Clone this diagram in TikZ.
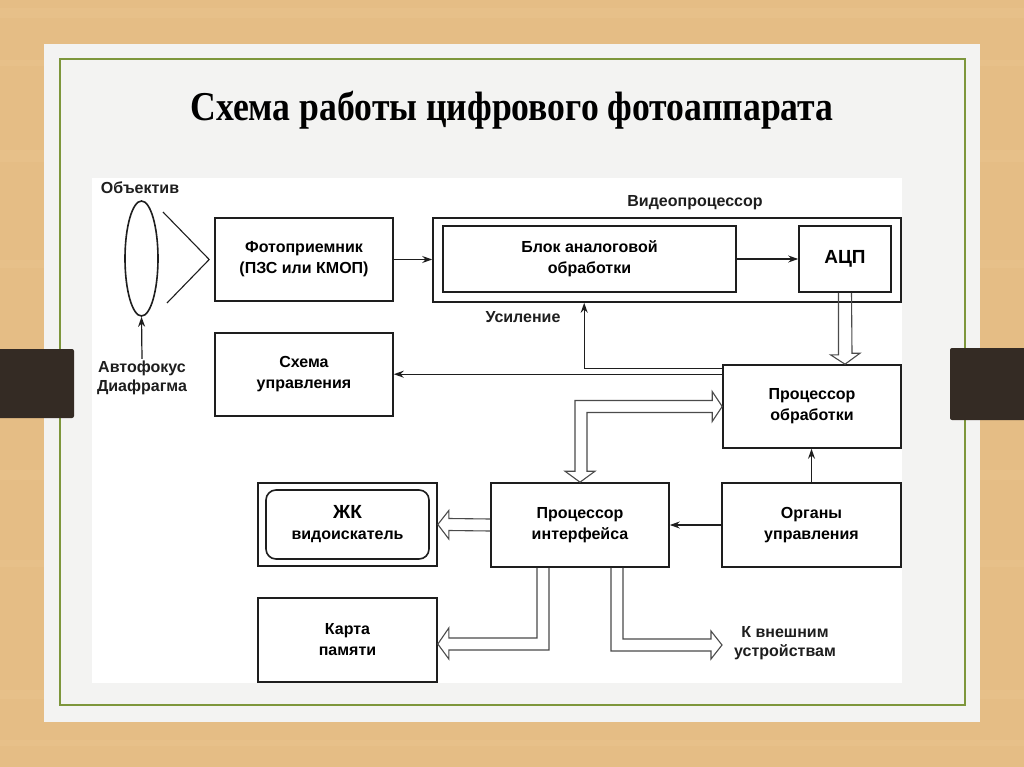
\documentclass[tikz,border=0pt]{standalone}
\usepackage{graphicx}
\usepackage{fontspec}
\setmainfont{Liberation Sans}
\newfontfamily\titlefont{Liberation Serif}
\usetikzlibrary{arrows.meta,calc,shapes.geometric}
\definecolor{wood}{RGB}{229,189,133}
\definecolor{woodlight}{RGB}{238,204,152}
\definecolor{slide}{RGB}{243,243,242}
\definecolor{frame}{RGB}{125,150,60}
\definecolor{tab}{RGB}{52,43,36}
\definecolor{ink}{RGB}{30,30,30}
\tikzset{
  box/.style={draw=ink, line width=1.6, fill=white, align=center, inner sep=0pt,
    font=\bfseries\fontsize{16}{21}\selectfont},
  lbl/.style={align=center, inner sep=2pt, font=\bfseries\fontsize{16}{19}\selectfont, text=ink},
  conn/.style={draw=ink, line width=1.2, -{Stealth[length=10,width=7]}},
  hollow/.style={draw=ink!80, line width=1.1, line join=miter},
}
\begin{document}
\begin{tikzpicture}[x=1pt,y=-1pt]
\useasboundingbox (0,0) rectangle (1024,767);
% background
\fill[wood] (0,0) rectangle (1024,767);
\foreach \yy/\hh in {8/10,60/6,150/12,260/8,470/10,560/7,690/9,740/6}{
  \fill[woodlight, opacity=0.25] (0,\yy) rectangle (1024,\yy+\hh);}
\fill[slide] (44,44) rectangle (980,722);
\draw[frame, line width=1.5] (60,59) rectangle (965,705);
\fill[white] (92,178) rectangle (902,683);
\fill[tab, rounded corners=2] (-5,349) rectangle (74,418);
\fill[tab, rounded corners=2] (950,348) rectangle (1030,420);
% title
\node (title) at (512,110) {\titlefont\bfseries\fontsize{41}{44}\selectfont\scalebox{0.87}[1]{Схема работы цифрового фотоаппарата}};

% lens
\node[draw=ink, line width=1.6, ellipse, minimum width=33, minimum height=115, inner sep=0pt] (lens) at (141.5,258.5) {};
\node[lbl] (obj) at (140,188) {Объектив};
\node[lbl] (af) at (142,378) {Автофокус\\Диафрагма};

% boxes
\node[box, minimum width=178, minimum height=83] (foto) at (304,259.5) {Фотоприемник\\(ПЗС или КМОП)};
\node[draw=ink, line width=1.6, minimum width=468, minimum height=84, inner sep=0pt] (video) at (667,260) {};
\node[lbl] (videolbl) at (695,203) {Видеопроцессор};
\node[box, minimum width=293, minimum height=66] (blok) at (589.5,259) {Блок аналоговой\\обработки};
\node[box, minimum width=92, minimum height=66, font=\bfseries\fontsize{19}{21}\selectfont] (adc) at (845,259) {АЦП};
\node[box, minimum width=178, minimum height=83] (proc) at (812,406.5) {Процессор\\обработки};
\node[box, minimum width=178, minimum height=83] (schema) at (304,374.5) {Схема\\управления};
\node[box, minimum width=178, minimum height=84] (iface) at (580,525) {Процессор\\интерфейса};
\node[box, minimum width=179, minimum height=84] (organs) at (811.5,525) {Органы\\управления};
\node[box, minimum width=179, minimum height=83] (lcdo) at (347.5,524.5) {};
\node[box, rounded corners=10, minimum width=163, minimum height=69] (lcd) at (347.5,524.5) {{\fontsize{19}{22}\selectfont ЖК}\\видоискатель};
\node[box, minimum width=179, minimum height=84] (card) at (347.5,640) {Карта\\памяти};
\node[lbl] (gainlbl) at (523,317) {Усиление};
\node[lbl] (extlbl) at (785,643) {К внешним\\устройствам};

% cone of light
\coordinate (apex) at ($(foto.west)+(-5,0)$);
\draw[ink, line width=1.1] (163,212) -- (apex) -- (167,303);

% simple connectors
\draw[conn] (af.north) -- (lens.south);
\draw[conn] (foto.east) -- (foto.east -| video.west);
\draw[conn] (blok.east) -- (blok.east -| adc.west);
\coordinate (gainsrc) at ($(proc.north west)+(0,4)$);
\coordinate (gaindst) at ($(video.south west)+(152,0)$);
\draw[conn] (gainsrc) -| (gaindst);
\coordinate (ctlsrc) at ($(proc.north west)+(0,10)$);
\draw[conn] (ctlsrc) -- (ctlsrc -| schema.east);
\draw[conn] (organs.west) -- (organs.west -| iface.east);
\draw[conn] (organs.north) -- (organs.north |- proc.south);

% hollow arrows
\draw[hollow] ($(adc.south)+(-6.5,0)$) -- ++(0,62) -- ++(-8,0) -- (adc.south |- proc.north) -- ++(15,-11) -- ++(-8,0) -- ($(adc.south)+(6.5,0)$);
\draw[hollow] (iface.north) -- ++(-15,-11) -- ++(10,0) |- ($(proc.west)+(-10,-6)$) -- ++(0,-9) -- (proc.west) -- ++(-10,15) -- ++(0,-9) -| ($(iface.north)+(7,-11)$) -- ++(8,0) -- cycle;
\draw[hollow] ($(iface.west)+(0,-6)$) -- ($(lcdo.east)+(11,-6)$) -- ++(0,-8) -- (lcdo.east) -- ++(11,14.5) -- ++(0,-8.5) -- ($(iface.west)+(0,6)$);
\draw[hollow] ($(iface.south)+(-43,0)$) |- ($(card.east)+(11,-2)$) -- ++(0,-10) -- ($(card.east)+(0,4)$) -- ++(11,15) -- ++(0,-9) -| ($(iface.south)+(-31,0)$);
\coordinate (exttip) at (722,645);
\draw[hollow] ($(iface.south)+(43,0)$) |- ($(exttip)+(-11,-6)$) -- ++(0,-8) -- (exttip) -- ++(-11,14) -- ++(0,-8) -| ($(iface.south)+(31,0)$);
\end{tikzpicture}
\end{document}
